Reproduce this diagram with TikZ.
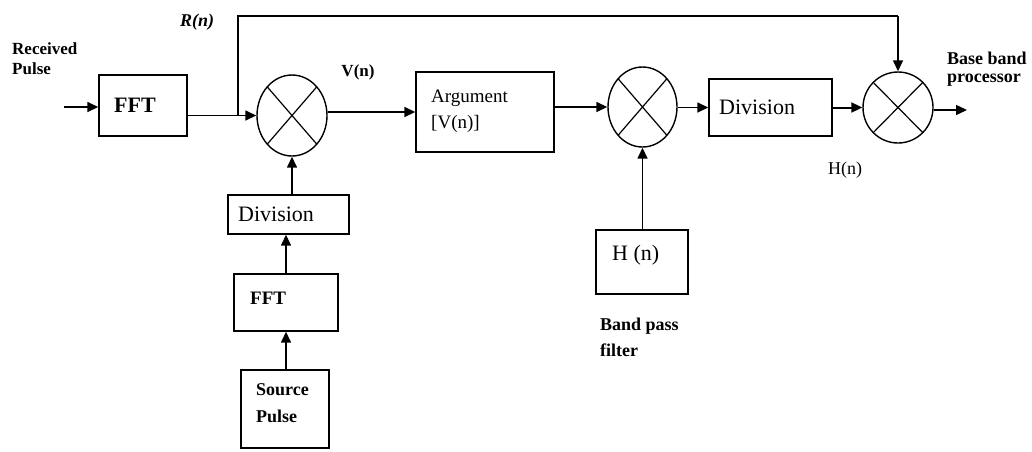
\documentclass[tikz,border=0pt]{standalone}
\usepackage{fontspec}
\setmainfont{Liberation Serif}
\usetikzlibrary{shapes.geometric,arrows.meta}
\tikzset{
  blk/.style={draw, line width=1.4pt, inner sep=0pt},
  mult/.style={draw, ellipse, line width=1.4pt, inner sep=0pt,
    path picture={\draw[line width=1.2pt] (path picture bounding box.north west) -- (path picture bounding box.south east)
      (path picture bounding box.north east) -- (path picture bounding box.south west);}},
  conn/.style={line width=1.5pt, -{Triangle[length=11pt,width=10pt]}},
  lbl/.style={inner sep=0pt, align=left},
}
\begin{document}
\begin{tikzpicture}[x=1pt,y=-1pt]
\useasboundingbox (0,0) rectangle (1032,451);
% blocks
\node[blk, minimum width=88, minimum height=61] (fft1) at (143,105.5) {};
\node[lbl, font=\fontsize{22}{24}\selectfont\bfseries, anchor=west] at (114,105.5) {FFT};
\node[mult, minimum width=70, minimum height=81] (c1) at (292,115.5) {};
\node[blk, minimum width=138, minimum height=80] (arg) at (485,112) {};
\node[lbl, font=\fontsize{19}{26}\selectfont, anchor=north west] at (431,90) {Argument\\{}[V(n)]};
\node[mult, minimum width=69, minimum height=80] (c2) at (642.5,107) {};
\node[blk, minimum width=123, minimum height=57] (div2) at (770.5,107.5) {};
\node[lbl, font=\fontsize{22}{24}\selectfont, anchor=west] at (719,107.5) {Division};
\node[mult, minimum width=70, minimum height=71] (c3) at (898,107.5) {};
\node[blk, minimum width=121, minimum height=39] (div1) at (288.5,214.5) {};
\node[lbl, font=\fontsize{22}{24}\selectfont, anchor=west] at (238,214.5) {Division};
\node[blk, minimum width=104, minimum height=57] (fft2) at (286,302.5) {};
\node[lbl, font=\fontsize{19}{22}\selectfont\bfseries, anchor=west] at (250,298) {FFT};
\node[blk, minimum width=88, minimum height=78] (src) at (285,409) {};
\node[lbl, font=\fontsize{18}{27}\selectfont\bfseries, anchor=north west] at (256,383) {Source\\Pulse};
\node[blk, minimum width=92, minimum height=64] (hbox) at (642,262) {};
\node[lbl, font=\fontsize{22}{24}\selectfont, anchor=west] at (612,255) {H (n)};
% labels
\node[lbl, font=\fontsize{17}{20}\selectfont\bfseries, anchor=north west] (rx) at (12,42) {Received\\Pulse};
\node[lbl, font=\fontsize{18}{20}\selectfont\bfseries\itshape] (rn) at (197,22) {R(n)};
\node[lbl, font=\fontsize{17}{20}\selectfont\bfseries] (vn) at (358,72) {V(n)};
\node[lbl, font=\fontsize{18}{18}\selectfont\bfseries, anchor=north west] (bb) at (947,52) {Base band\\processor};
\node[lbl, font=\fontsize{18}{20}\selectfont] (hn) at (845,170) {H(n)};
\node[lbl, font=\fontsize{18}{26}\selectfont\bfseries, anchor=north west] (bp) at (600,318) {Band pass\\filter};
% connectors
\coordinate (in) at (64,107);
\coordinate (out) at (967,110);
\coordinate (tap) at (238,115.5);
\coordinate (top) at (238,16);
\draw[conn] (in) -- (in -| fft1.west);
\draw[conn] (fft1.east |- c1.west) -- (c1.west);
\draw[line width=2.2pt] (tap) -- (top) -- (top -| c3.north);
\draw[conn] (top -| c3.north) -- (c3.north);
\draw[conn] (c1.east |- arg.west) -- (arg.west);
\draw[conn] (arg.east |- c2.west) -- (c2.west);
\draw[conn] (c2.east |- div2.west) -- (div2.west);
\draw[conn, line width=2pt] (div2.east |- c3.west) -- (c3.west);
\draw[conn] (c3.east |- out) -- (out);
\draw[conn] (c1.south |- div1.north) -- (c1.south);
\draw[conn] (fft2.north) -- (fft2.north |- div1.south);
\draw[conn] (fft2.south |- src.north) -- (fft2.south);
\draw[conn] (hbox.north -| c2.south) -- (c2.south);
\end{tikzpicture}
\end{document}
